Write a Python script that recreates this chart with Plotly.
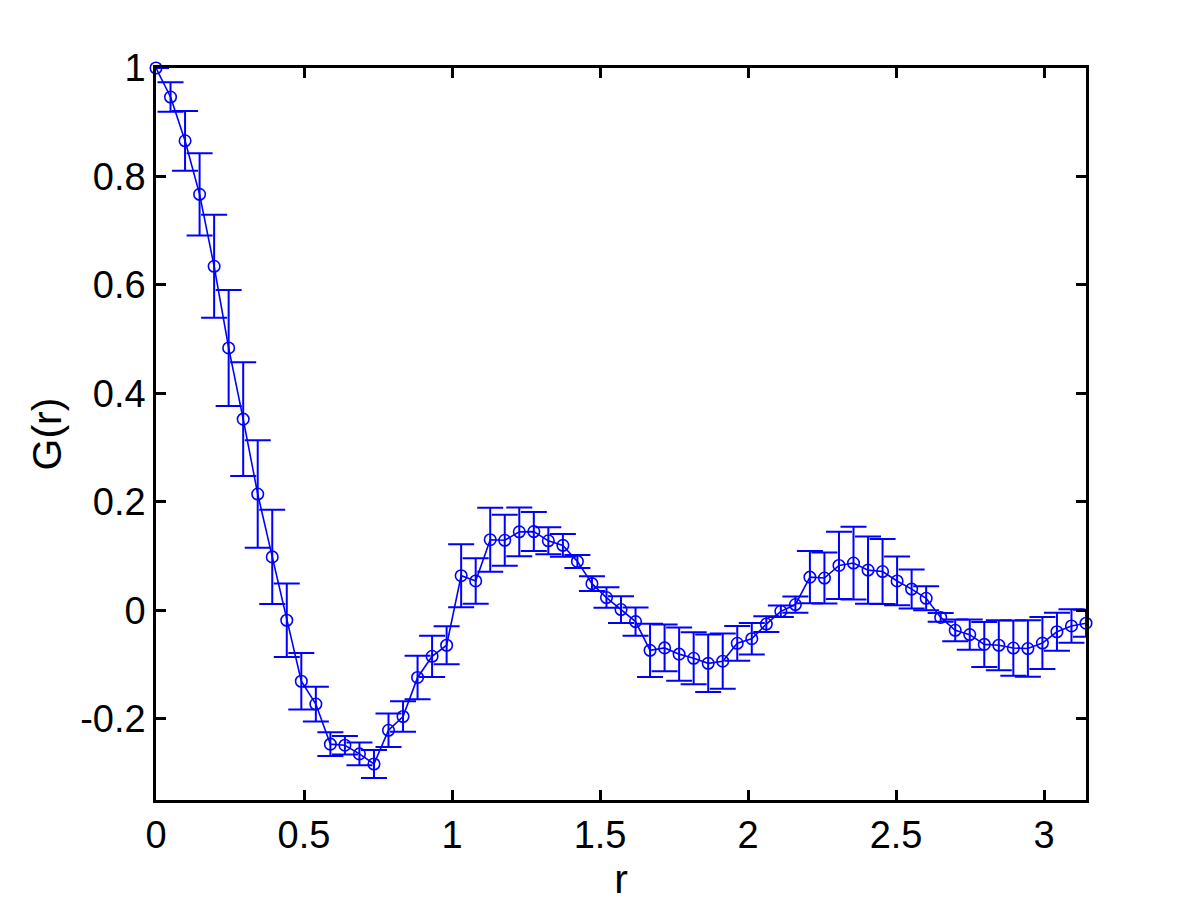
import numpy as np
import plotly.graph_objects as go

# r sampled from 0 to pi (65 points)
r = np.linspace(0, np.pi, 65)

G = [1.0, 0.9465, 0.8657, 0.767, 0.6343, 0.4837, 0.3524, 0.2143, 0.0983, -0.0185,
     -0.131, -0.173, -0.247, -0.249, -0.265, -0.2836, -0.2214, -0.196, -0.124, -0.085,
     -0.0646, 0.0637, 0.054, 0.130, 0.129, 0.1445, 0.145, 0.128, 0.1196, 0.090,
     0.049, 0.0234, 0.0012, -0.021, -0.074, -0.0695, -0.081, -0.0886, -0.098, -0.094,
     -0.061, -0.0526, -0.0255, -0.002, 0.0105, 0.061, 0.0594, 0.0825, 0.087, 0.074,
     0.0714, 0.054, 0.039, 0.022, -0.0133, -0.037, -0.045, -0.063, -0.0646, -0.0698,
     -0.0707, -0.0606, -0.0397, -0.029, -0.024]

G_err = [0.0, 0.027, 0.055, 0.076, 0.095, 0.107, 0.105, 0.099, 0.087, 0.068,
         0.052, 0.032, 0.022, 0.017, 0.021, 0.026, 0.031, 0.028, 0.040, 0.038,
         0.035, 0.058, 0.042, 0.059, 0.047, 0.045, 0.036, 0.025, 0.021, 0.012,
         0.0135, 0.019, 0.0246, 0.026, 0.049, 0.043, 0.049, 0.048, 0.053, 0.051,
         0.032, 0.029, 0.0145, 0.0105, 0.015, 0.048, 0.047, 0.062, 0.067, 0.062,
         0.060, 0.045, 0.036, 0.022, 0.008, 0.020, 0.028, 0.0415, 0.046, 0.051,
         0.052, 0.048, 0.035, 0.031, 0.025]

x_ticks = [0, 0.5, 1, 1.5, 2, 2.5, 3]
y_ticks = [-0.2, 0, 0.2, 0.4, 0.6, 0.8, 1]
y_tick_text = ["-0.2", "0", "0.2", "0.4", "0.6", "0.8", "1"]

blue = "#0000ff"
tick_font = dict(family="Liberation Sans, Arial, Helvetica, sans-serif", size=38, color="black")
title_font = dict(family="Liberation Sans, Arial, Helvetica, sans-serif", size=41, color="black")

fig = go.Figure()
# line + error bars (clipped to the axes box)
fig.add_trace(go.Scatter(
    x=r, y=G,
    mode="lines",
    line=dict(color=blue, width=1.6),
    error_y=dict(type="data", array=G_err, visible=True, color=blue,
                 thickness=2, width=13),
    cliponaxis=True,
    showlegend=False,
))
# open circle markers (not clipped, like the first point on the corner)
fig.add_trace(go.Scatter(
    x=r, y=G,
    mode="markers",
    marker=dict(symbol="circle-open", size=11.5, color=blue, line=dict(width=1.6)),
    cliponaxis=False,
    showlegend=False,
))

fig.update_layout(
    width=1200, height=900,
    paper_bgcolor="white", plot_bgcolor="white",
    margin=dict(l=148, r=122, t=60, b=108),
    font=tick_font,
)
fig.update_xaxes(
    range=[0, np.pi], tickvals=x_ticks, ticktext=[str(t) for t in x_ticks],
    ticks="inside", ticklen=10, tickwidth=2.5, tickcolor="black",
    showline=True, linewidth=2.5, linecolor="black", mirror="ticks",
    showgrid=False, zeroline=False,
    title=dict(text="r", font=title_font, standoff=0),
    tickfont=tick_font,
)
fig.update_yaxes(
    range=[-0.35, 1], tickvals=y_ticks, ticktext=y_tick_text,
    ticks="inside", ticklen=10, tickwidth=2.5, tickcolor="black",
    showline=True, linewidth=2.5, linecolor="black", mirror="ticks",
    showgrid=False, zeroline=False,
    title=dict(text="G(r)", font=title_font, standoff=6),
    tickfont=tick_font,
)

fig.write_html("out.html")
